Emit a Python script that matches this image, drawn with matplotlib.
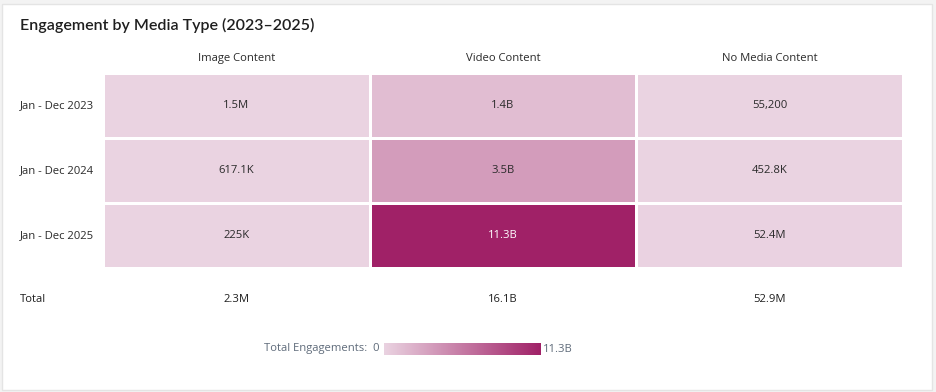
import matplotlib.pyplot as plt
import numpy as np
from matplotlib.colors import LinearSegmentedColormap
from matplotlib.patches import Rectangle
from matplotlib.transforms import blended_transform_factory

plt.rcParams['font.family'] = ['Open Sans', 'DejaVu Sans']

# data
columns = ['Image Content', 'Video Content', 'No Media Content']
rows = ['Jan - Dec 2023', 'Jan - Dec 2024', 'Jan - Dec 2025']
image_vals = [1.5e6, 617.1e3, 225e3]
video_vals = [1.4e9, 3.5e9, 11.3e9]
nomedia_vals = [55200, 452.8e3, 52.4e6]
image_labels = ['1.5M', '617.1K', '225K']
video_labels = ['1.4B', '3.5B', '11.3B']
nomedia_labels = ['55,200', '452.8K', '52.4M']
totals = ['2.3M', '16.1B', '52.9M']
vmax = 11.3e9

W, H = 936, 392
FS = 8.1
fig = plt.figure(figsize=(W / 100, H / 100), dpi=100)
fig.patch.set_facecolor('#f3f3f3')
card = Rectangle((2 / W, 2 / H), 930 / W, 386 / H, transform=fig.transFigure,
                 facecolor='white', edgecolor='#e4e4e4', linewidth=1, zorder=-5)
fig.patches.append(card)

def pxbox(x0, y0, x1, y1):
    return [x0 / W, 1 - y1 / H, (x1 - x0) / W, (y1 - y0) / H]

cmap = LinearSegmentedColormap.from_list('eng', ['#ead3e1', '#a02167'])

ax = fig.add_axes(pxbox(103, 73, 903, 268))
ax.set_zorder(1)
data = np.array([image_vals, video_vals, nomedia_vals]).T
labels = np.array([image_labels, video_labels, nomedia_labels]).T
ax.pcolormesh(data, cmap=cmap, vmin=0, vmax=vmax, edgecolors='white', linewidth=0.8)
ax.set_xlim(0, 3)
ax.set_ylim(3, 0)
ax.axis('off')

for i in range(len(rows)):
    for j in range(len(columns)):
        c = 'white' if data[i, j] / vmax > 0.6 else '#2a2a2a'
        ax.text(j + 0.5, i + 0.5, labels[i, j], ha='center', va='center',
                fontsize=FS, color=c)

for j, name in enumerate(columns):
    ax.text(j + 0.5, -0.23, name, ha='center', va='center', fontsize=FS,
            color='#2a2a2a', clip_on=False)
    ax.text(j + 0.5, 3.49, totals[j], ha='center', va='center', fontsize=FS,
            color='#1f1f1f', clip_on=False)

tr = blended_transform_factory(fig.transFigure, ax.transData)
for i, name in enumerate(rows):
    ax.text(20 / W, i + 0.5, name, ha='left', va='center', fontsize=FS,
            color='#2a2a2a', transform=tr)
ax.text(20 / W, 3.49, 'Total', ha='left', va='center', fontsize=FS,
        color='#1f1f1f', transform=tr)

fig.text(20 / W, 1 - 25 / H, 'Engagement by Media Type (2023\u20132025)', ha='left',
         va='center', fontsize=11.5, color='#1f1f1f', family=['Lato', 'DejaVu Sans'],
         fontweight='semibold')

# legend colour bar
cax = fig.add_axes(pxbox(384, 343, 541, 355))
cax.set_zorder(1)
cax.imshow(np.linspace(0, vmax, 256).reshape(1, -1), cmap=cmap, aspect='auto',
           vmin=0, vmax=vmax, extent=[0, vmax, 0, 1])
cax.axis('off')
fig.text(380 / W, 1 - 349 / H, 'Total Engagements:  0', ha='right', va='center',
         fontsize=FS, color='#5f6b7a')
fig.text(543 / W, 1 - 349 / H, '11.3B', ha='left', va='center',
         fontsize=FS, color='#5f6b7a')

fig.savefig('out.png', dpi=100, facecolor=fig.get_facecolor())
